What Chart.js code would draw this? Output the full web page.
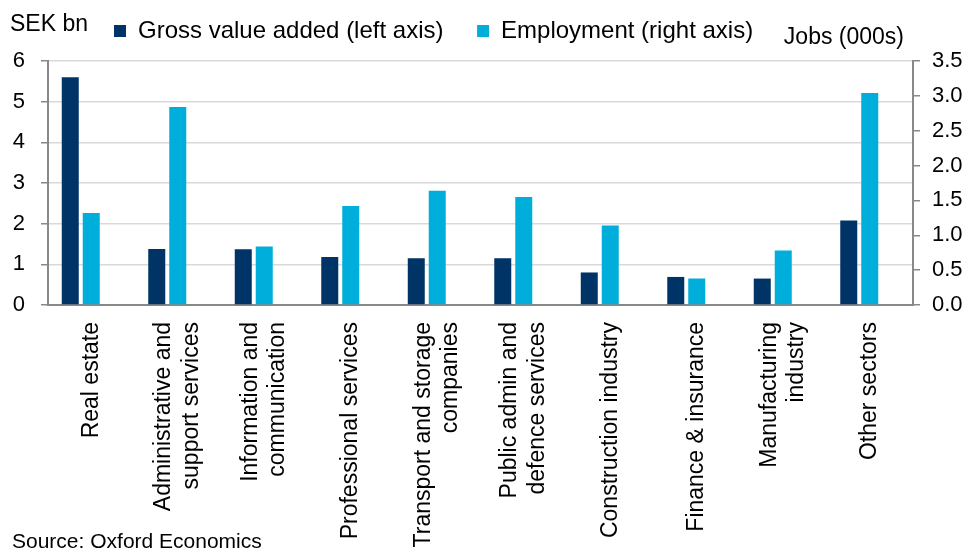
<!DOCTYPE html>
<html>
<head>
<meta charset="utf-8">
<script src="https://cdn.jsdelivr.net/npm/chart.js@4.4.0/dist/chart.umd.min.js"></script>
<style>
	html, body { margin: 0; padding: 0; background: #fff; }
	#wrap { width: 969px; height: 552px; position: relative; }
</style>
</head>
<body>
<div id="wrap"><canvas id="chart"></canvas></div>
<script>
const sectors = [
	['Real estate'],
	['Administrative and', 'support services'],
	['Information and', 'communication'],
	['Professional services'],
	['Transport and storage', 'companies'],
	['Public admin and', 'defence services'],
	['Construction industry'],
	['Finance & insurance'],
	['Manufacturing', 'industry'],
	['Other sectors'],
]
const grossValueAdded = [5.6, 1.38, 1.37, 1.18, 1.15, 1.15, 0.8, 0.69, 0.65, 2.08]
const employment = [1.32, 2.84, 0.84, 1.42, 1.64, 1.55, 1.14, 0.38, 0.78, 3.04]
const leftTicks = [0, 1, 2, 3, 4, 5, 6]
const rightTicks = [0, 0.5, 1, 1.5, 2, 2.5, 3, 3.5]

// empty third series, Excel leaves a free slot right of each pair
const spacer = sectors.map(() => null)

const FONT = "'Liberation Sans', Arial, sans-serif"
const AXIS_GREY = '#898989'

Chart.defaults.font.family = FONT
Chart.defaults.color = '#000'

const extras = {
	id: 'extras',
	afterLayout(chart) {
		// move the legend to where the original has it
		const legend = chart.legend
		const pad = legend.options.labels.padding
		const w = legend.width
		const h = legend.height
		legend.left = 114 - pad
		legend.right = legend.left + w
		legend.top = 19 - pad
		legend.bottom = legend.top + h
	},
	afterDraw(chart) {
		const ctx = chart.ctx
		const xScale = chart.scales.x
		ctx.save()
		ctx.fillStyle = '#000'
		ctx.textBaseline = 'middle'
		ctx.font = '23px ' + FONT

		ctx.textAlign = 'left'
		ctx.fillText('SEK bn', 10, 25)
		ctx.textAlign = 'right'
		ctx.fillText('Jobs (000s)', 904, 38)

		// category labels, rotated, lines centred on the category
		const lineHeight = 27.5
		sectors.forEach((lines, i) => {
			const cx = xScale.getPixelForValue(i)
			lines.forEach((line, j) => {
				ctx.save()
				ctx.translate(cx + (j - (lines.length - 1) / 2) * lineHeight, xScale.top + 17)
				ctx.rotate(-Math.PI / 2)
				ctx.textAlign = 'right'
				ctx.fillText(line, 0, 0)
				ctx.restore()
			})
		})

		ctx.font = '21px ' + FONT
		ctx.textAlign = 'left'
		ctx.fillText('Source: Oxford Economics', 12, 542)
		ctx.restore()
	},
}

const ctx = document.getElementById('chart').getContext('2d')
new Chart(ctx, {
	type: 'bar',
	data: {
		labels: sectors,
		datasets: [
			{
				label: 'Gross value added (left axis)',
				data: grossValueAdded,
				backgroundColor: '#003366',
				yAxisID: 'y',
			},
			{
				label: 'Employment (right axis)',
				data: employment,
				backgroundColor: '#00AEDB',
				yAxisID: 'y1',
			},
			{
				label: '',
				data: spacer,
				backgroundColor: 'rgba(0,0,0,0)',
				yAxisID: 'y',
			},
		],
	},
	options: {
		responsive: true,
		maintainAspectRatio: false,
		animation: false,
		events: [],
		categoryPercentage: 0.728,
		barPercentage: 0.81,
		layout: {
			padding: { top: -6.6, left: 0, right: 0, bottom: 0 },
		},
		plugins: {
			legend: {
				display: true,
				position: 'top',
				align: 'start',
				labels: {
					boxWidth: 12,
					boxHeight: 12,
					padding: 33.6,
					color: '#000',
					font: { size: 24 },
					filter: item => item.text !== '',
				},
			},
			tooltip: { enabled: false },
		},
		scales: {
			x: {
				grid: { display: false },
				border: { display: true, color: AXIS_GREY, width: 2 },
				ticks: { display: false },
				afterFit: scale => { scale.height = 247 },
			},
			y: {
				position: 'left',
				min: 0,
				max: 6,
				afterBuildTicks: scale => {
					scale.ticks = leftTicks.map(v => ({ value: v }))
				},
				grid: {
					color: '#d9d9d9',
					lineWidth: 1.5,
					tickColor: AXIS_GREY,
					tickLength: 7,
				},
				border: { color: AXIS_GREY, width: 2 },
				ticks: {
					color: '#000',
					font: { size: 22 },
					padding: 16,
				},
				afterFit: scale => { scale.width = 48 },
			},
			y1: {
				position: 'right',
				min: 0,
				max: 3.5,
				afterBuildTicks: scale => {
					scale.ticks = rightTicks.map(v => ({ value: v }))
				},
				grid: {
					drawOnChartArea: false,
					tickColor: AXIS_GREY,
					lineWidth: 1.5,
					tickLength: 7,
				},
				border: { color: AXIS_GREY, width: 2 },
				ticks: {
					color: '#000',
					font: { size: 22 },
					padding: 12,
					callback: value => Number(value).toFixed(1),
				},
				afterFit: scale => { scale.width = 56 },
			},
		},
	},
	plugins: [extras],
})
</script>
</body>
</html>
